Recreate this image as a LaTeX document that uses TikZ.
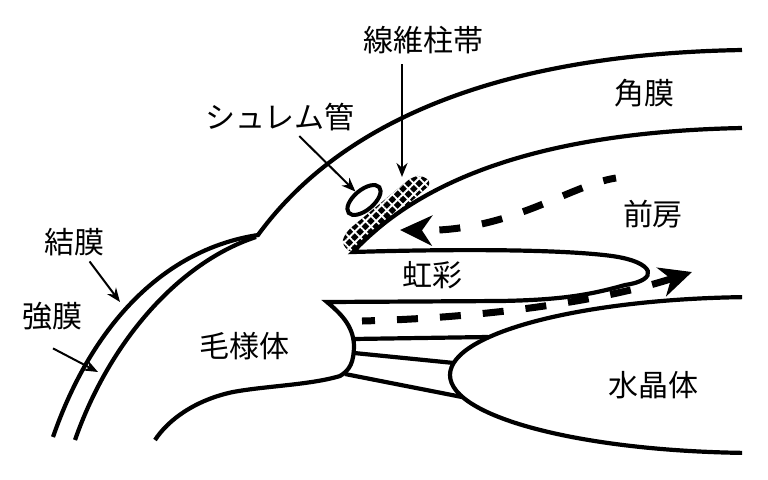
\documentclass[tikz,border=0pt]{standalone}
\usepackage{fontspec}
\newfontfamily\jpfont{Noto Sans CJK JP}
\usetikzlibrary{arrows.meta, shapes.geometric, patterns.meta}

\begin{document}
\begin{tikzpicture}[
    x=0.5pt, y=-0.5pt,
    tissue/.style={line width=2.1pt},
    partname/.style={font=\jpfont\fontsize{15}{18}\selectfont, inner sep=1pt},
    pointer/.style={-{Stealth[length=7pt, width=5.5pt]}, line width=1pt},
    flow/.style={-{Stealth[length=16pt, width=15pt, inset=5pt]}, line width=3.5pt, dash pattern=on 10.5pt off 11pt, dash phase=4pt},
    mesh/.style={preaction={fill=black}, pattern={Hatch[angle=45, distance=3.8pt, line width=0.9pt]}, pattern color=white, rounded corners=3pt},
    canal/.style={draw, line width=2pt, fill=white, ellipse, minimum width=20pt, minimum height=10pt, inner sep=0pt, rotate=40}
]
    \useasboundingbox (0,0) rectangle (768,479);
    \fill[white] (0,0) rectangle (768,479);

    % Trabecular meshwork
    \path[mesh] (352,254) -- (341,243) -- (347,231) -- (412,177) -- (422,175) -- (432,183) -- cycle;

    % Conjunctiva, sclera and cornea
    \draw[tissue] (53,437) .. controls (90,330) and (160,250) .. (258,235)
        .. controls (320,150) and (450,55) .. (742,50);
    \draw[tissue] (75,440) .. controls (110,340) and (180,262) .. (256,237);
    \draw[tissue] (742,128) .. controls (540,132) and (420,180) .. (353,252)
        .. controls (450,249) and (560,249) .. (612,256)
        .. controls (655,262) and (660,280) .. (625,285)
        .. controls (590,295) and (560,300) .. (500,301) -- (327,302)
        .. controls (340,313) and (353,325) .. (354,345)
        .. controls (354,362) and (350,370) .. (340,376)
        .. controls (310,385) and (265,386) .. (233,392)
        .. controls (195,400) and (168,420) .. (155,440);

    % Zonules and lens
    \draw[tissue] (353,339) -- (488,337);
    \draw[tissue] (354,353) -- (454,363);
    \draw[tissue] (345,374) -- (462,397);
    \begin{scope}
        \clip (0,0) rectangle (742,479);
        \draw[tissue] (760,375) ellipse [x radius=310, y radius=78];
    \end{scope}

    % Schlemm's canal
    \node[canal] (schlemm) at (364,200) {};

    % Aqueous flow
    \draw[flow] (362,321) .. controls (480,318) and (600,302) .. (692,272);
    \draw[flow] (616,178) .. controls (570,185) and (510,232) .. (400,230);

    % Labels
    \node[partname] (tmlbl) at (424,40) {線維柱帯};
    \node[partname] (corlbl) at (644,93) {角膜};
    \node[partname] (schlbl) at (280,117) {シュレム管};
    \node[partname] (aclbl) at (653,214) {前房};
    \node[partname] (irislbl) at (432,275) {虹彩};
    \node[partname] (lenslbl) at (654,385) {水晶体};
    \node[partname] (cblbl) at (244,346) {毛様体};
    \node[partname] (conjlbl) at (75,242) {結膜};
    \node[partname] (scllbl) at (53,316) {強膜};

    % Pointers
    \coordinate (tmtip) at (402,177);
    \coordinate (conjtip) at (120,302);
    \coordinate (scltip) at (98,372);
    \draw[pointer, shorten <=4pt] (tmlbl.south -| tmtip) -- (tmtip);
    \draw[pointer, shorten <=2pt] (schlbl) -- (schlemm);
    \draw[pointer, shorten <=2pt] (conjlbl) -- (conjtip);
    \draw[pointer] ([yshift=-8pt]scllbl.south) -- (scltip);
\end{tikzpicture}
\end{document}
